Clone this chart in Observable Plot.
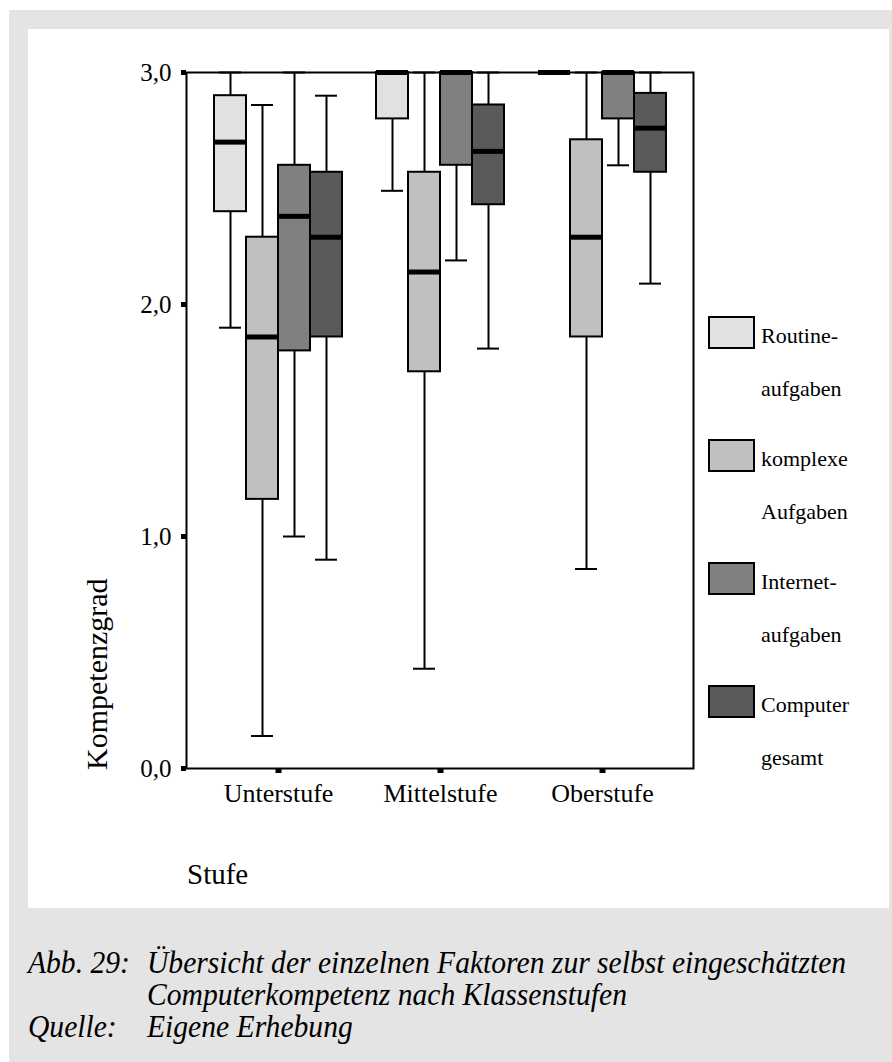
<!DOCTYPE html>
<html><head><meta charset="utf-8">
<script src="https://cdn.jsdelivr.net/npm/d3@7"></script>
<script src="https://cdn.jsdelivr.net/npm/@observablehq/plot@0.6"></script>
<style>
html,body{margin:0;padding:0;overflow:hidden;background:#fff;}
#page{position:relative;width:892px;height:1062px;font-family:"Liberation Serif","Times New Roman",serif;}
#gray{position:absolute;left:9px;top:10px;width:883px;height:1052px;background:#e4e4e4;}
#panel{position:absolute;left:28px;top:29px;width:861px;height:879px;background:#fff;}
.layer{position:absolute;left:0;top:0;}
</style></head><body>
<div id="page"><div id="gray"></div><div id="panel"></div><div id="frame" class="layer"></div><div id="chart" class="layer"></div><svg id="overlay" class="layer" width="892" height="1062"></svg></div>
<script>
// ---- data ----
const stufen = ["Unterstufe", "Mittelstufe", "Oberstufe"];
const series = ["Routineaufgaben", "komplexe Aufgaben", "Internetaufgaben", "Computer gesamt"];
const legendLabels = [["Routine-", "aufgaben"], ["komplexe", "Aufgaben"], ["Internet-", "aufgaben"], ["Computer", "gesamt"]];
const colors = ["#e1e1e1", "#c0c0c0", "#808080", "#5a5a5a"];
// order: for each Stufe, the four series
const whiskerLow  = [1.90, 0.14, 1.00, 0.90,  2.49, 0.43, 2.19, 1.81,  3.00, 0.86, 2.60, 2.09];
const quartile1   = [2.40, 1.16, 1.80, 1.86,  2.80, 1.71, 2.60, 2.43,  3.00, 1.86, 2.80, 2.57];
const median      = [2.70, 1.86, 2.38, 2.29,  3.00, 2.14, 3.00, 2.66,  3.00, 2.29, 3.00, 2.76];
const quartile3   = [2.90, 2.29, 2.60, 2.57,  3.00, 2.57, 3.00, 2.86,  3.00, 2.71, 3.00, 2.91];
const whiskerHigh = [3.00, 2.86, 3.00, 2.90,  3.00, 3.00, 3.00, 3.00,  3.00, 3.00, 3.00, 3.00];
const yTicks = [0, 1, 2, 3];
const yLabel = "Kompetenzgrad";
const xLabel = "Stufe";
const captionLines = [
  ["Abb. 29:", "Übersicht der einzelnen Faktoren zur selbst eingeschätzten"],
  ["", "Computerkompetenz nach Klassenstufen"],
  ["Quelle:", "Eigene Erhebung"]
];

const rows = [];
stufen.forEach((s, si) => series.forEach((k, ki) => {
  const i = si * series.length + ki;
  rows.push({stufe: s, serie: k, lo: whiskerLow[i], q1: quartile1[i], med: median[i], q3: quartile3[i], hi: whiskerHigh[i]});
}));

const FONT = '"Liberation Serif", "Times New Roman", serif';
const dims = {width: 892, height: 900, marginLeft: 186, marginRight: 199, marginTop: 72, marginBottom: 132};

// frame + y axis (not faceted)
const framePlot = Plot.plot({
  ...dims,
  style: {background: "transparent", fontFamily: FONT, fontSize: "25px", color: "#000", overflow: "visible"},
  x: {domain: [0, 1], axis: null},
  y: {domain: [0, 3]},
  marks: [
    Plot.frame({stroke: "#000", strokeWidth: 2}),
    Plot.axisY({ticks: yTicks, tickFormat: d => d.toFixed(1).replace(".", ","), tickSize: 5, strokeWidth: 5, tickPadding: 10, label: null})
  ]
});
document.getElementById("frame").appendChild(framePlot);

const common = {fx: "stufe", x: "serie"};
const chart = Plot.plot({
  ...dims,
  style: {background: "transparent", fontFamily: FONT, fontSize: "26px", color: "#000", overflow: "visible"},
  fx: {domain: stufen, paddingInner: 0.2, paddingOuter: 0.16, label: null},
  x: {domain: series, padding: 0, axis: null},
  y: {domain: [0, 3], axis: null},
  color: {domain: series, range: colors},
  marks: [
    Plot.ruleX(rows, {...common, y1: "lo", y2: "hi", stroke: "#000", strokeWidth: 2}),
    Plot.tickY(rows, {...common, y: "lo", stroke: "#000", strokeWidth: 2, inset: 5}),
    Plot.tickY(rows, {...common, y: "hi", stroke: "#000", strokeWidth: 2, inset: 5}),
    Plot.barY(rows, {...common, y1: "q1", y2: "q3", fill: "serie", stroke: "#000", strokeWidth: 2}),
    Plot.tickY(rows, {...common, y: "med", stroke: "#000", strokeWidth: 5}),
    Plot.axisFx({anchor: "bottom", tickSize: 5, strokeWidth: 6, tickPadding: 10, label: null})
  ]
});
document.getElementById("chart").appendChild(chart);

// ---- overlay: axis titles, legend, caption ----
const svg = d3.select("#overlay").style("font-family", FONT);
svg.append("text").attr("transform", "translate(107,770) rotate(-90)")
  .attr("font-size", 30).attr("text-anchor", "start").text(yLabel);
svg.append("text").attr("x", 187).attr("y", 884).attr("font-size", 29).text(xLabel);

const lg = svg.append("g");
series.forEach((k, i) => {
  const top = 317 + i * 123;
  lg.append("rect").attr("x", 709).attr("y", top).attr("width", 45).attr("height", 31)
    .attr("fill", colors[i]).attr("stroke", "#000").attr("stroke-width", 2);
  legendLabels[i].forEach((t, j) => {
    lg.append("text").attr("x", 761).attr("y", top + 26 + j * 53).attr("font-size", 22).text(t);
  });
});

// caption: slightly condensed italic, as in the original
const sx = 0.955;
const cap = svg.append("g").attr("font-style", "italic").attr("font-size", 31)
  .attr("transform", `scale(${sx},1)`);
captionLines.forEach((l, i) => {
  const y = 973 + i * 32;
  if (l[0]) cap.append("text").attr("x", 28 / sx).attr("y", y).text(l[0]);
  cap.append("text").attr("x", 147 / sx).attr("y", y).text(l[1]);
});
</script>
</body></html>
